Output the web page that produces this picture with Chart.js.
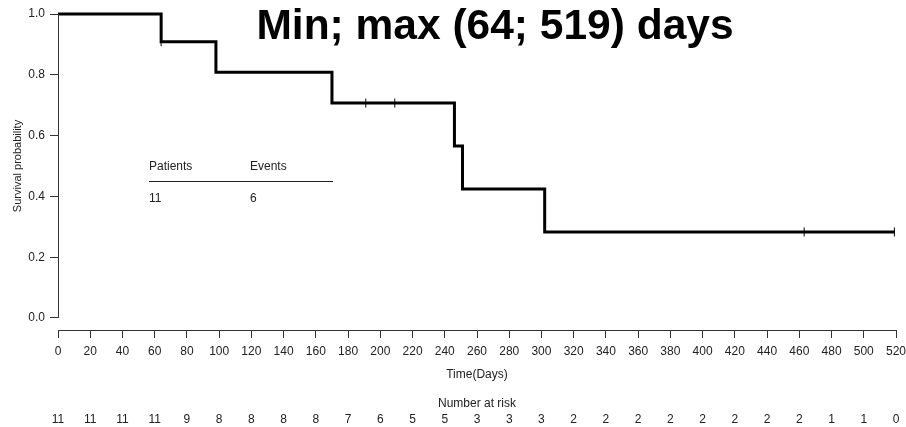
<!DOCTYPE html>
<html>
<head>
<meta charset="utf-8">
<script src="https://cdn.jsdelivr.net/npm/chart.js@4.4.1/dist/chart.umd.min.js"></script>
<style>
  html, body { margin: 0; padding: 0; background: #fff; }
  canvas { display: block; }
</style>
</head>
<body>
<canvas id="kmChart" width="906" height="427"></canvas>
<script>
// KM curve
var kmTimes = [0, 64, 98, 170, 246, 251, 302, 519];
var kmSurv = [1.0, 0.909, 0.808, 0.707, 0.566, 0.424, 0.283, 0.283];

// censored points (small ticks on the curve)
var censorTimes = [64, 191, 209, 463, 519];
var censorSurv = [0.909, 0.707, 0.707, 0.283, 0.283];

// axis ticks
var xTickValues = [0, 20, 40, 60, 80, 100, 120, 140, 160, 180, 200, 220, 240, 260,
                   280, 300, 320, 340, 360, 380, 400, 420, 440, 460, 480, 500, 520];
var yTickValues = [0, 0.2, 0.4, 0.6, 0.8, 1.0];

// number at risk under each x tick
var riskCounts = [11, 11, 11, 11, 9, 8, 8, 8, 8, 7, 6, 5, 5, 3, 3, 3,
                  2, 2, 2, 2, 2, 2, 2, 2, 1, 1, 0];

var nPatients = 11;
var nEvents = 6;
var titleText = "Min; max (64; 519) days";

var FONT = "'Liberation Sans', Arial, Helvetica, sans-serif";
var TXT = "#222";

var kmData = [];
for (var i = 0; i < kmTimes.length; i++) {
    kmData.push({ x: kmTimes[i], y: kmSurv[i] });
}
var censorData = [];
for (var i = 0; i < censorTimes.length; i++) {
    censorData.push({ x: censorTimes[i], y: censorSurv[i] });
}

// extra drawing: y axis line, title, labels, table, risk row
var extrasPlugin = {
    id: "extras",
    afterDraw: function (chart) {
        var ctx = chart.ctx;
        var xs = chart.scales.x;
        var ys = chart.scales.y;
        var left = chart.chartArea.left;

        ctx.save();
        // y axis line from 0 to 1 only
        ctx.strokeStyle = "#333";
        ctx.lineWidth = 1;
        ctx.beginPath();
        ctx.moveTo(left + 0.5, ys.getPixelForValue(0));
        ctx.lineTo(left + 0.5, ys.getPixelForValue(1));
        ctx.stroke();

        // title
        ctx.fillStyle = "#000";
        ctx.font = "bold 42.5px " + FONT;
        ctx.textAlign = "center";
        ctx.textBaseline = "alphabetic";
        ctx.fillText(titleText, 495, 39);

        // y axis title
        ctx.fillStyle = TXT;
        ctx.font = "11px " + FONT;
        ctx.save();
        ctx.translate(18, (ys.getPixelForValue(0) + ys.getPixelForValue(1)) / 2);
        ctx.rotate(-Math.PI / 2);
        ctx.textAlign = "center";
        ctx.textBaseline = "middle";
        ctx.fillText("Survival probability", 0, 0);
        ctx.restore();

        // patients / events table
        ctx.font = "12px " + FONT;
        ctx.textAlign = "left";
        ctx.textBaseline = "middle";
        ctx.fillText("Patients", 149, 167);
        ctx.fillText("Events", 250, 167);
        ctx.fillText(String(nPatients), 149, 199);
        ctx.fillText(String(nEvents), 250, 199);
        ctx.strokeStyle = "#222";
        ctx.beginPath();
        ctx.moveTo(149, 181.5);
        ctx.lineTo(333, 181.5);
        ctx.stroke();

        // x axis title and number at risk
        var midX = (xs.getPixelForValue(0) + xs.getPixelForValue(520)) / 2;
        ctx.textAlign = "center";
        ctx.fillText("Time(Days)", midX, 375);
        ctx.fillText("Number at risk", midX, 404);
        for (var j = 0; j < xTickValues.length; j++) {
            ctx.fillText(String(riskCounts[j]), xs.getPixelForValue(xTickValues[j]), 420);
        }
        ctx.restore();
    }
};

var config = {
    type: "line",
    data: {
        datasets: [
            {
                data: kmData,
                stepped: true,
                borderColor: "#000",
                borderWidth: 3,
                pointRadius: 0,
                fill: false,
                clip: false
            },
            {
                data: censorData,
                showLine: false,
                pointStyle: "line",
                rotation: 90,
                pointRadius: 4.5,
                pointBorderWidth: 1,
                pointBorderColor: "#000",
                clip: false
            }
        ]
    },
    options: {
        responsive: false,
        animation: false,
        layout: { padding: { top: 14, right: 10, left: 0, bottom: 0 } },
        plugins: {
            legend: { display: false },
            tooltip: { enabled: false },
            title: { display: false }
        },
        scales: {
            x: {
                type: "linear",
                min: 0,
                max: 520,
                afterBuildTicks: function (scale) {
                    scale.ticks = xTickValues.map(function (v) { return { value: v }; });
                },
                afterFit: function (scale) {
                    scale.height = 97;
                    scale.paddingLeft = 0;
                    scale.paddingRight = 0;
                },
                ticks: {
                    autoSkip: false,
                    maxRotation: 0,
                    color: TXT,
                    font: { family: FONT, size: 12 },
                    padding: 6
                },
                grid: {
                    drawOnChartArea: false,
                    tickLength: 8,
                    color: "#333"
                },
                border: { display: true, color: "#333", width: 1 }
            },
            y: {
                type: "linear",
                min: -0.0395,
                max: 1,
                afterBuildTicks: function (scale) {
                    scale.ticks = yTickValues.map(function (v) { return { value: v }; });
                },
                afterFit: function (scale) {
                    scale.width = 58;
                    scale.paddingTop = 0;
                    scale.paddingBottom = 0;
                },
                ticks: {
                    color: TXT,
                    font: { family: FONT, size: 12 },
                    padding: 5,
                    callback: function (v) { return Number(v).toFixed(1); }
                },
                grid: {
                    drawOnChartArea: false,
                    tickLength: 8,
                    color: "#333"
                },
                border: { display: false }
            }
        }
    },
    plugins: [extrasPlugin]
};

var myChart = new Chart(document.getElementById("kmChart"), config);
</script>
</body>
</html>
